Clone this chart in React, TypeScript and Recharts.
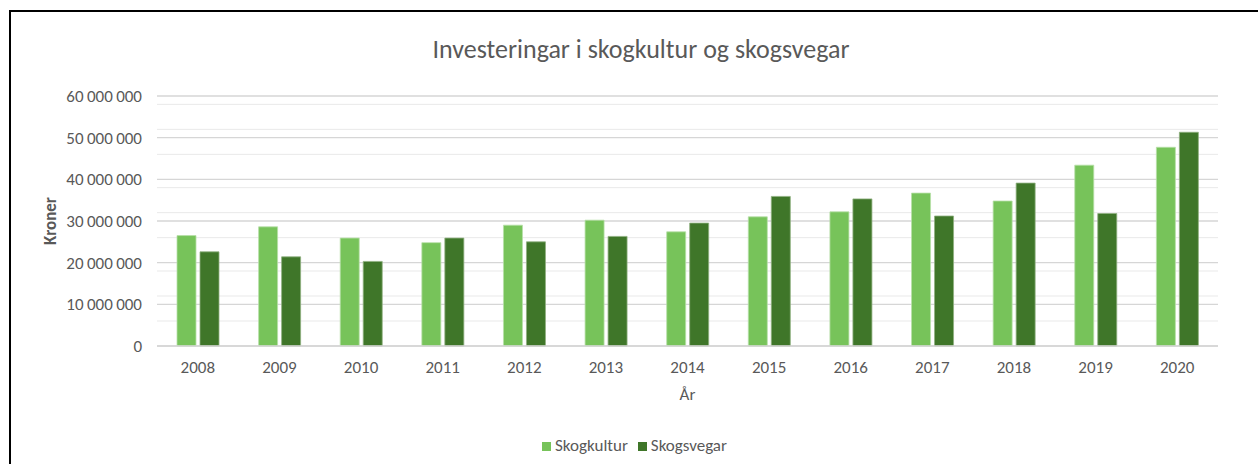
import React from 'react';
import { BarChart, Bar, XAxis, YAxis, CartesianGrid, Legend, Label } from 'recharts';

const years = ['2008','2009','2010','2011','2012','2013','2014','2015','2016','2017','2018','2019','2020'];
const skogkultur = [26.5, 28.6, 25.9, 24.8, 29.0, 30.2, 27.4, 31.0, 32.2, 36.7, 34.8, 43.4, 47.7];
const skogsvegar = [22.6, 21.4, 20.3, 25.9, 25.0, 26.3, 29.5, 35.9, 35.3, 31.2, 39.1, 31.8, 51.3];
const majorTicks = [0, 10000000, 20000000, 30000000, 40000000, 50000000, 60000000];
const minorTicks = [2,4,6,8,12,14,16,18,22,24,26,28,32,34,36,38,42,44,46,48,52,54,56,58].map(v => v * 1000000);

const data = years.map((y, i) => ({ year: y, Skogkultur: skogkultur[i] * 1000000, Skogsvegar: skogsvegar[i] * 1000000 }));

const FONT = 'Carlito, Calibri, "Open Sans", sans-serif';
const TXT = '#595959';

const fmt = (v: number) => String(Math.round(v)).replace(/\B(?=(\d{3})+(?!\d))/g, '\u2009');

export default function App() {
  return (
    <div style={{ position: 'fixed', left: 0, top: 0, width: 1258, height: 464, background: '#fff', overflow: 'hidden', fontFamily: FONT }}>
      <div style={{ position: 'absolute', left: 9, top: 10, width: 1270, height: 480, border: '2px solid #000', boxSizing: 'border-box' }} />
      <div style={{ position: 'absolute', left: 0, top: 34, width: 1282, textAlign: 'center', fontSize: 26, lineHeight: '31px', color: TXT }}>
        Investeringar i skogkultur og skogsvegar
      </div>
      <div style={{ position: 'absolute', left: 0, top: 0 }}>
        <BarChart width={1258} height={464} data={data} margin={{ top: 96, right: 40, bottom: 37, left: 0 }} barCategoryGap={20} barGap={4}>
          <CartesianGrid yAxisId="main" vertical={false} horizontalValues={minorTicks} stroke="#E9E9E9" strokeWidth={1} />
          <CartesianGrid yAxisId="main" vertical={false} stroke="#D6D6D6" strokeWidth={1.3} />
          <XAxis dataKey="year" axisLine={{ stroke: '#D6D6D6', strokeWidth: 1.3 }} tickLine={false} tickMargin={9} height={60}
            tick={{ fill: TXT, fontSize: 17, fontFamily: FONT }}>
            <Label value="År" position="insideTop" offset={42} style={{ fill: TXT, fontSize: 17, fontFamily: FONT }} />
          </XAxis>
          <YAxis yAxisId="main" width={157} domain={[0, 60000000]} ticks={majorTicks} axisLine={false} tickLine={false} tickMargin={9}
            tickFormatter={fmt} tick={{ fill: TXT, fontSize: 17, fontFamily: FONT }}>
            <Label value="Kroner" angle={-90} position="insideLeft" offset={50} style={{ fill: TXT, fontSize: 17, fontFamily: FONT, fontWeight: 600, textAnchor: 'middle' }} />
          </YAxis>
          <Legend verticalAlign="bottom" iconType="square" iconSize={9}
            wrapperStyle={{ fontSize: 17, fontFamily: FONT, color: TXT, bottom: 8, left: 542, width: 'auto' }}
            formatter={(v: string) => <span style={{ color: TXT }}>{v}</span>} />
          <Bar yAxisId="main" dataKey="Skogkultur" fill="#77C35A" stroke="#B8E0A8" strokeWidth={0.8} isAnimationActive={false} />
          <Bar yAxisId="main" dataKey="Skogsvegar" fill="#3F7629" stroke="#8FB080" strokeWidth={0.8} isAnimationActive={false} />
        </BarChart>
      </div>
    </div>
  );
}
